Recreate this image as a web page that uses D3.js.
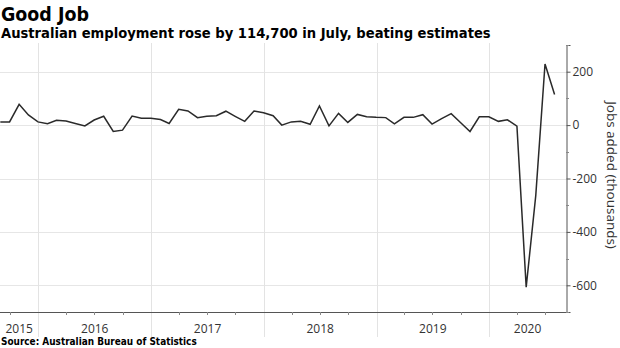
<!DOCTYPE html>
<html><head><meta charset="utf-8">
<script src="https://cdn.jsdelivr.net/npm/d3@7"></script>
<style>body{margin:0;background:#fff}svg{display:block}</style>
</head><body><svg id="c" width="620" height="348"></svg>
<script>
const months = [
 "2015-08","2015-09","2015-10","2015-11","2015-12",
 "2016-01","2016-02","2016-03","2016-04","2016-05","2016-06","2016-07","2016-08","2016-09","2016-10","2016-11","2016-12",
 "2017-01","2017-02","2017-03","2017-04","2017-05","2017-06","2017-07","2017-08","2017-09","2017-10","2017-11","2017-12",
 "2018-01","2018-02","2018-03","2018-04","2018-05","2018-06","2018-07","2018-08","2018-09","2018-10","2018-11","2018-12",
 "2019-01","2019-02","2019-03","2019-04","2019-05","2019-06","2019-07","2019-08","2019-09","2019-10","2019-11","2019-12",
 "2020-01","2020-02","2020-03","2020-04","2020-05","2020-06","2020-07"];
const jobsAdded = [
 12,12,78,38,12,
 5,18,15,6,-3,19,33,-24,-19,34,26,26,
 21,6,59,53,28,33,35,52,33,14,53,46,
 35,0,12,14,3,72,-3,44,10,40,31,29,
 28,5,29,29,39,4,24,43,10,-24,31,31,
 14,20,-4,-607,-264,229,114.7];
const yTicks = [200,0,-200,-400,-600];
const yMinorTicks = [300,100,-100,-300,-500,-700];
const yDomain = [-700,300];
const yearLabels = ["2015","2016","2017","2018","2019","2020"];
const titleText = "Good Job";
const subtitleText = "Australian employment rose by 114,700 in July, beating estimates";
const sourceText = "Source: Australian Bureau of Statistics";
const yAxisTitle = "Jobs added (thousands)";

(function(){
const svg = d3.select("#c");
const pL = 0, pR = 566, pT = 45, pB = 312;
const parse = d3.timeParse("%Y-%m");
const endOfMonth = d => d3.timeDay.offset(d3.timeMonth.offset(parse(d),1),-1);
const data = months.map((m,i)=>({date:endOfMonth(m), v:jobsAdded[i]}));

const x = d3.scaleTime().domain([new Date(2015,7,30), new Date(2020,8,6)]).range([pL,pR]);
const y = d3.scaleLinear().domain(yDomain).range([pB, pT]);

const headFont = "'DejaVu Sans Condensed','Roboto',sans-serif";
const tickFont = "'Open Sans','Noto Sans',sans-serif";

svg.append("g").selectAll("line").data(yTicks).join("line")
  .attr("x1",pL).attr("x2",pR).attr("y1",d=>Math.round(y(d))+0.5).attr("y2",d=>Math.round(y(d))+0.5)
  .attr("stroke","#e6e6e6").attr("stroke-width",1);
const bounds = yearLabels.map(s=>new Date(+s,0,1)).filter(d=>x(d)>pL+1);
svg.append("g").selectAll("line").data(bounds).join("line")
  .attr("x1",d=>Math.round(x(d))+0.5).attr("x2",d=>Math.round(x(d))+0.5)
  .attr("y1",pT-2).attr("y2",337)
  .attr("stroke","#e3e3e3").attr("stroke-width",1);

svg.append("line").attr("x1",pL).attr("x2",pR+0.5).attr("y1",pB+0.5).attr("y2",pB+0.5)
  .attr("stroke","#555");
const quarters = d3.timeMonth.every(3).range(x.domain()[0], x.domain()[1]).filter(d=>d.getMonth()!==0);
svg.append("g").selectAll("line").data(quarters).join("line")
  .attr("x1",d=>Math.round(x(d))+0.5).attr("x2",d=>Math.round(x(d))+0.5)
  .attr("y1",pB).attr("y2",pB+3).attr("stroke","#888");

svg.append("g").selectAll("text").data(yearLabels).join("text")
  .attr("x",(s)=>{const a=Math.max(pL,x(new Date(+s,0,1))),b=Math.min(pR,x(new Date(+s+1,0,1)));return (a+b)/2;})
  .attr("y",333).attr("text-anchor","middle")
  .attr("font-family",tickFont).attr("font-size",12).attr("fill","#333")
  .text(d=>d);

const ya = svg.append("g").attr("transform",`translate(${pR+0.5},0)`)
  .call(d3.axisRight(y).tickValues(yTicks).tickSize(4).tickPadding(2).tickFormat(d=>String(d)));
ya.select(".domain").attr("stroke","#555");
ya.selectAll(".tick line").attr("stroke","#555");
ya.selectAll(".tick text").attr("font-family",tickFont).attr("font-size",12).attr("fill","#333");
svg.append("g").selectAll("line").data(yMinorTicks).join("line")
  .attr("x1",pR).attr("x2",pR+3).attr("y1",d=>Math.round(y(d))+0.5).attr("y2",d=>Math.round(y(d))+0.5)
  .attr("stroke","#888");

svg.append("text").attr("transform",`translate(607,175) rotate(90)`)
  .attr("text-anchor","middle").attr("font-family",tickFont).attr("font-size",13.5).attr("fill","#333")
  .text(yAxisTitle);

svg.append("path").datum(data)
  .attr("fill","none").attr("stroke","#2a2a2a").attr("stroke-width",1.5).attr("stroke-linejoin","miter")
  .attr("d",d3.line().x(d=>x(d.date)).y(d=>y(d.v)));

function fit(sel, w){ const l=sel.node().getComputedTextLength(); const fs=parseFloat(sel.attr("font-size")); if(l>0) sel.attr("font-size",fs*w/l); }
const t1 = svg.append("text").attr("x",1).attr("y",21).attr("font-family",headFont).attr("font-weight","bold")
  .attr("font-size",20).attr("fill","#000").text(titleText);
fit(t1,88);
const t2 = svg.append("text").attr("x",1).attr("y",38).attr("font-family",headFont).attr("font-weight","bold")
  .attr("font-size",14).attr("fill","#000").text(subtitleText);
fit(t2,490);
const t3 = svg.append("text").attr("x",1).attr("y",345).attr("font-family",headFont).attr("font-weight","bold")
  .attr("font-size",10).attr("fill","#000").text(sourceText);
fit(t3,196);
})();
</script></body></html>
